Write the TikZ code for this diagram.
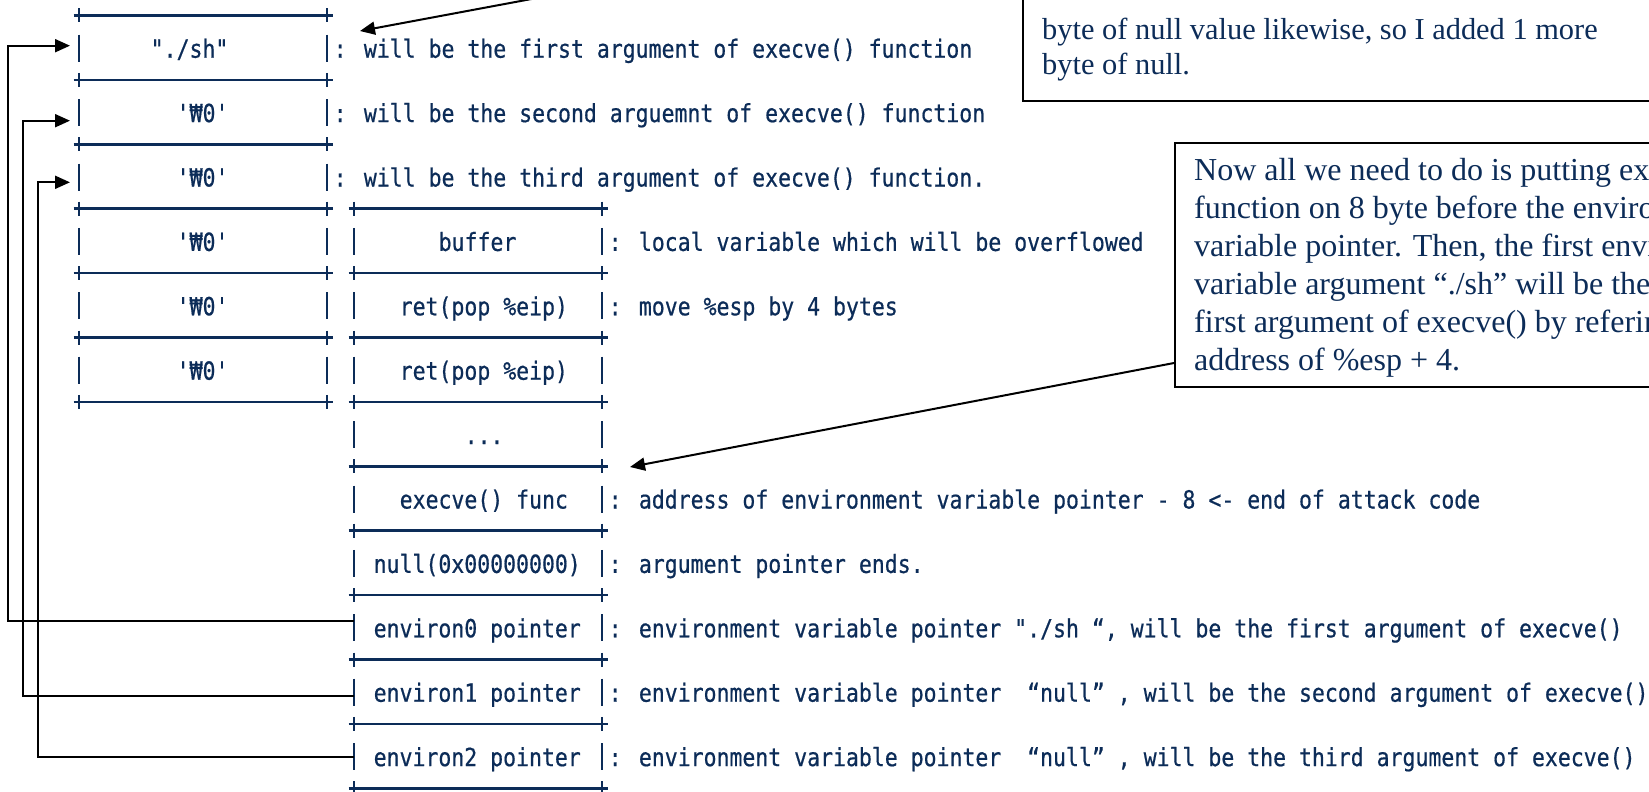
\documentclass[tikz,border=0pt]{standalone}
\usepackage{fontspec}
\setmainfont{Liberation Serif}
\newfontfamily\gmono[FakeStretch=0.86,FakeBold=0.6]{DejaVu Sans Mono}
\usetikzlibrary{arrows.meta}
\definecolor{navy}{RGB}{12,44,88}
\begin{document}
\begin{tikzpicture}[x=1pt,y=-1pt,
  mono/.style={font=\gmono\fontsize{25}{30}\selectfont, text=navy, inner sep=0pt, anchor=base west},
  serifa/.style={font=\fontsize{30.4}{35}\selectfont, text=navy, inner sep=0pt, anchor=base west},
  serifb/.style={font=\fontsize{32}{37}\selectfont, text=navy, inner sep=0pt, anchor=base west},
  rule/.style={draw=navy, line width=2.7pt},
  tickmark/.style={draw=navy, line width=2.8pt},
  conn/.style={draw=black, line width=2pt},
  arr/.style={conn, -{Triangle[length=15pt,width=13pt]}},
  callout/.style={draw=black, line width=2pt, inner sep=0pt, anchor=north west}
]
\useasboundingbox (0,0) rectangle (1649,792);
\clip (0,0) rectangle (1649,792);

% ---------- left column frame ----------
\foreach \j in {0,2,...,12}{
  \pgfmathsetmacro\yy{15.5+32.2*\j}
  \draw[rule] (73.5,\yy) -- (332.5,\yy);
  \draw[tickmark] (79,\yy-7) -- (79,\yy+7);
  \draw[tickmark] (327,\yy-7) -- (327,\yy+7);
}
\foreach \j in {1,3,...,11}{
  \pgfmathsetmacro\yy{15.5+32.2*\j}
  \draw[tickmark] (79,\yy-13) -- (79,\yy+14);
  \draw[tickmark] (327,\yy-13) -- (327,\yy+14);
}
% ---------- right column frame ----------
\foreach \j in {6,8,...,24}{
  \pgfmathsetmacro\yy{15.5+32.2*\j}
  \draw[rule] (348.5,\yy) -- (607.5,\yy);
  \draw[tickmark] (354,\yy-7) -- (354,\yy+7);
  \draw[tickmark] (602,\yy-7) -- (602,\yy+7);
}
\foreach \j in {7,9,...,23}{
  \pgfmathsetmacro\yy{15.5+32.2*\j}
  \draw[tickmark] (354,\yy-13) -- (354,\yy+14);
  \draw[tickmark] (602,\yy-13) -- (602,\yy+14);
}

% ---------- left column cells ----------
\node[mono] (L1) at (150.5,57.7) {"./sh"};
\node[mono] (L3) at (176.5,122.1) {'₩0'};
\node[mono] (L5) at (176.5,186.5) {'₩0'};
\node[mono] (L7) at (176.5,250.9) {'₩0'};
\node[mono] (L9) at (176.5,315.3) {'₩0'};
\node[mono] (L11) at (176.5,379.7) {'₩0'};

% ---------- right column cells ----------
\node[mono] (R7) at (438.5,250.9) {buffer};
\node[mono] (R9) at (399.5,315.3) {ret(pop \%eip)};
\node[mono] (R11) at (399.5,379.7) {ret(pop \%eip)};
\node[mono] (R13) at (464.5,444.1) {...};
\node[mono] (R15) at (399.5,508.5) {execve() func};
\node[mono] (R17) at (373.5,572.9) {null(0x00000000)};
\node[mono] (R19) at (373.5,637.3) {environ0 pointer};
\node[mono] (R21) at (373.5,701.7) {environ1 pointer};
\node[mono] (R23) at (373.5,766.1) {environ2 pointer};

% ---------- annotations ----------
\node[mono] (A1) at (333.5,57.7) {: will be the first argument of execve() function};
\node[mono] (A3) at (333.5,122.1) {: will be the second arguemnt of execve() function};
\node[mono] (A5) at (333.5,186.5) {: will be the third argument of execve() function.};
\node[mono] (A7) at (608.5,250.9) {: local variable which will be overflowed};
\node[mono] (A9) at (608.5,315.3) {: move \%esp by 4 bytes};
\node[mono] (A15) at (608.5,508.5) {: address of environment variable pointer - 8 <- end of attack code};
\node[mono] (A17) at (608.5,572.9) {: argument pointer ends.};
\node[mono] (A19) at (608.5,637.3) {: environment variable pointer "./sh “, will be the first argument of execve()};
\node[mono] (A21) at (608.5,701.7) {: environment variable pointer \ “null” , will be the second argument of execve()};
\node[mono] (A23) at (608.5,766.1) {: environment variable pointer \ “null” , will be the third argument of execve()};

% ---------- callout boxes ----------
\node[callout, minimum width=660pt, minimum height=130pt] (box1) at (1022,-30) {};
\node[serifa] (b1a) at (1042,40) {byte of null value likewise, so I added 1 more};
\node[serifa] (b1b) at (1042,74.7) {byte of null.};

\node[callout, minimum width=520pt, minimum height=244pt] (box2) at (1174,142) {};
\node[serifb] (b2a) at (1194,180) {\makebox[455pt][s]{Now all we need to do is putting ex}};
\node[serifb] (b2b) at (1194,218) {function on 8 byte before the enviro};
\node[serifb] (b2c) at (1194,256) {variable pointer. Then, the first envi};
\node[serifb] (b2d) at (1194,294) {variable argument “./sh” will be the};
\node[serifb] (b2e) at (1194,332) {first argument of execve() by referin};
\node[serifb] (b2f) at (1194,370) {address of \%esp + 4.};

% ---------- connectors ----------
\coordinate (src1) at (569,-8);
\coordinate (tip1) at (360,31);
\draw[arr] (src1) -- (tip1);

\coordinate (from2) at (1174,363);
\coordinate (tip2) at (630,467);
\draw[arr] (from2) -- (tip2);

\coordinate (v0) at (8.3,0);
\coordinate (v1) at (23.3,0);
\coordinate (v2) at (38.3,0);
\coordinate (in0) at (354,621);
\coordinate (in1) at (354,696);
\coordinate (in2) at (354,757);
\coordinate (t0) at (70,45.7);
\coordinate (t1) at (70,120.7);
\coordinate (t2) at (70,182.3);
\draw[arr] (in0) -- (in0 -| v0) |- (t0);
\draw[arr] (in1) -- (in1 -| v1) |- (t1);
\draw[arr] (in2) -- (in2 -| v2) |- (t2);
\end{tikzpicture}
\end{document}
